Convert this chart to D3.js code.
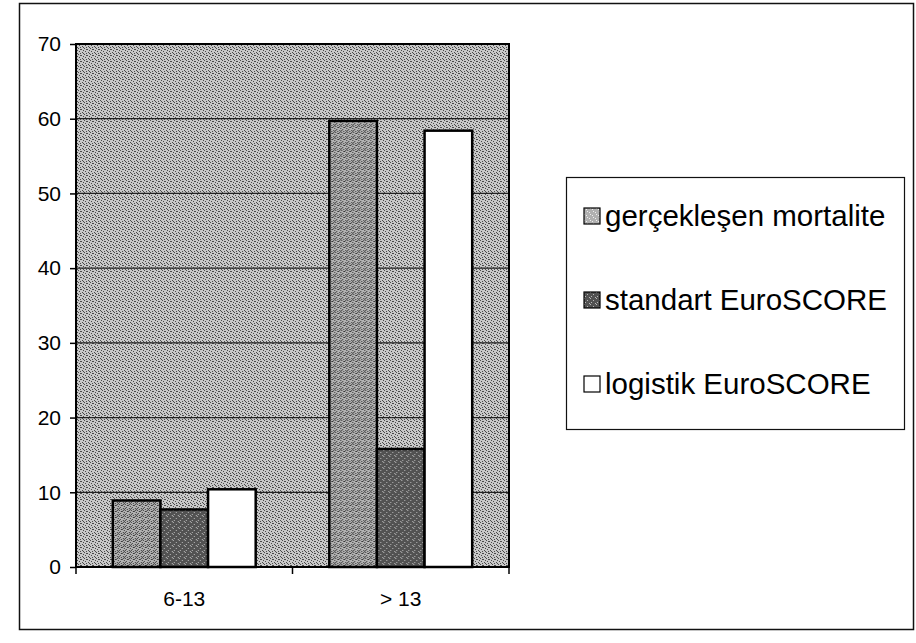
<!DOCTYPE html>
<html>
<head>
<meta charset="utf-8">
<script src="https://cdn.jsdelivr.net/npm/d3@7"></script>
<style>
  body { margin: 0; background: #fff; }
  svg { display: block; font-family: "Liberation Sans", Arial, sans-serif; }
  .axis path { display: none; }
  .axis line { stroke: #000; stroke-width: 1.5; }
  .axis text { font-size: 21px; fill: #000; }
</style>
</head>
<body>
<div id="chart"></div>
<script>
// data
const categories = ["6-13", "> 13"]
const seriesNames = ["gerçekleşen mortalite", "standart EuroSCORE", "logistik EuroSCORE"]
const gerceklesen = [8.9, 59.7]
const standart = [7.7, 15.8]
const logistik = [10.4, 58.4]
const yTicks = [0, 10, 20, 30, 40, 50, 60, 70]

const seriesValues = [gerceklesen, standart, logistik]
const seriesFill = ["url(#dotsMid)", "url(#dotsDark)", "#ffffff"]

const w = 916, h = 643
// plot area
const plot = { left: 76, right: 509, top: 44, bottom: 567 }

const svg = d3.select("#chart").append("svg")
  .attr("width", w)
  .attr("height", h)

// dithered fills, like the scanned print
const defs = svg.append("defs")
function dither(id, base, dot, cells) {
  const p = defs.append("pattern")
    .attr("id", id)
    .attr("width", 6).attr("height", 6)
    .attr("patternUnits", "userSpaceOnUse")
  p.append("rect").attr("width", 6).attr("height", 6).attr("fill", base)
  cells.forEach(c => {
    p.append("rect").attr("x", c[0]).attr("y", c[1])
      .attr("width", 1).attr("height", 1).attr("fill", dot)
  })
}
const scatter = [[0, 0], [3, 1], [5, 2], [1, 3], [4, 4], [2, 5], [5, 5], [2, 1]]
dither("dotsBg", "#c8c8c8", "#4a4a4a", scatter)
dither("dotsMid", "#b2b2b2", "#3a3a3a", scatter.concat([[0, 4], [4, 0]]))
dither("dotsDark", "#525252", "#b8b8b8", [[0, 0], [3, 2], [1, 4], [5, 5]])
dither("dotsLegMid", "#b0b0b0", "#eeeeee", [[0, 0], [3, 3], [2, 1], [5, 4]])

// outer frame
svg.append("rect")
  .attr("x", 19.5).attr("y", 3.5)
  .attr("width", 894).attr("height", 626)
  .attr("fill", "none")
  .attr("stroke", "#111")
  .attr("stroke-width", 1.5)

// SCALES
const y = d3.scaleLinear()
  .domain([0, 70])
  .range([plot.bottom, plot.top])

const x0 = d3.scaleBand()
  .domain(categories)
  .range([plot.left, plot.right])
  .paddingInner(0.34)
  .paddingOuter(0.17)

const x1 = d3.scaleBand()
  .domain(seriesNames)
  .range([0, x0.bandwidth()])

// plot background
svg.append("rect")
  .attr("x", plot.left).attr("y", plot.top)
  .attr("width", plot.right - plot.left)
  .attr("height", plot.bottom - plot.top)
  .attr("fill", "url(#dotsBg)")

// gridlines
svg.append("g")
  .selectAll("line")
  .data(yTicks.filter(t => t > 0 && t < 70))
  .enter().append("line")
  .attr("x1", plot.left).attr("x2", plot.right)
  .attr("y1", d => y(d)).attr("y2", d => y(d))
  .attr("stroke", "#222")
  .attr("stroke-width", 1.2)

// plot border
svg.append("rect")
  .attr("x", plot.left).attr("y", plot.top)
  .attr("width", plot.right - plot.left)
  .attr("height", plot.bottom - plot.top)
  .attr("fill", "none")
  .attr("stroke", "#000")
  .attr("stroke-width", 2)

// BARS
const groups = svg.append("g")
  .selectAll("g")
  .data(categories)
  .enter().append("g")
  .attr("transform", d => "translate(" + x0(d) + ",0)")

groups.selectAll("rect")
  .data((c, i) => seriesNames.map((s, k) => ({ series: s, k: k, value: seriesValues[k][i] })))
  .enter().append("rect")
  .attr("x", d => x1(d.series))
  .attr("y", d => y(d.value))
  .attr("width", x1.bandwidth())
  .attr("height", d => y(0) - y(d.value))
  .attr("fill", d => seriesFill[d.k])
  .attr("stroke", "#000")
  .attr("stroke-width", 2.5)

// AXES
svg.append("g")
  .attr("class", "axis y")
  .attr("transform", "translate(" + plot.left + ",0)")
  .call(d3.axisLeft(y).tickValues(yTicks).tickSize(6).tickPadding(9))

const xTickAt = [plot.left, (plot.left + plot.right) / 2, plot.right]
svg.append("g")
  .selectAll("line")
  .data(xTickAt)
  .enter().append("line")
  .attr("x1", d => d).attr("x2", d => d)
  .attr("y1", plot.bottom).attr("y2", plot.bottom + 7)
  .attr("stroke", "#000")
  .attr("stroke-width", 1.5)

svg.append("g")
  .attr("class", "axis x")
  .attr("transform", "translate(0," + plot.bottom + ")")
  .call(d3.axisBottom(x0).tickSize(0).tickPadding(24))

// LEGEND
const legend = svg.append("g")
legend.append("rect")
  .attr("x", 566.5).attr("y", 177.5)
  .attr("width", 338).attr("height", 252)
  .attr("fill", "#fff")
  .attr("stroke", "#111")
  .attr("stroke-width", 1.2)

const legendFill = ["url(#dotsLegMid)", "url(#dotsDark)", "#fff"]
const legendRow = d3.scalePoint()
  .domain(seriesNames)
  .range([226, 394])

const items = legend.selectAll("g.item")
  .data(seriesNames)
  .enter().append("g")
  .attr("class", "item")
  .attr("transform", d => "translate(584," + legendRow(d) + ")")

items.append("rect")
  .attr("x", 0).attr("y", -18)
  .attr("width", 16).attr("height", 16)
  .attr("fill", (d, i) => legendFill[i])
  .attr("stroke", "#000")
  .attr("stroke-width", 1.2)

items.append("text")
  .attr("x", 21)
  .attr("y", 0)
  .attr("font-size", 29.5)
  .attr("fill", "#000")
  .text(d => d)
</script>
</body>
</html>
